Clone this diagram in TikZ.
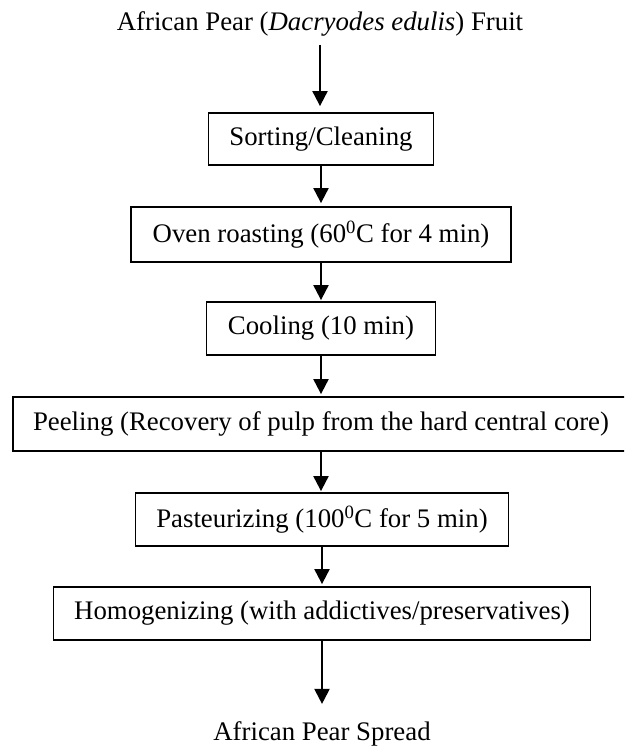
\documentclass[tikz,border=0pt]{standalone}
\usepackage{fontspec}
\setmainfont{Liberation Serif}
\usetikzlibrary{arrows.meta}
\begin{document}
\begin{tikzpicture}[x=1pt,y=-1pt,
  every node/.style={font=\fontsize{26.8pt}{32pt}\selectfont},
  stepbox/.style={draw,line width=1.8pt,inner sep=0pt,minimum height=53pt},
  flow/.style={line width=2pt,-{Triangle[width=15pt,length=15pt]}}]
\useasboundingbox (0,0) rectangle (624,747);
\clip (0,0) rectangle (624,747);
\node[anchor=base,inner sep=0pt] (src) at (320,30) {African Pear (\textit{Dacryodes edulis}) Fruit};
\node[stepbox,minimum width=225pt,minimum height=52pt] (sort) at (321,139) {Sorting/Cleaning};
\node[stepbox,minimum width=380pt,minimum height=55pt] (oven) at (321,234.5) {Oven roasting (60\textsuperscript{0}C for 4 min)};
\node[stepbox,minimum width=229pt] (cool) at (321,328.5) {Cooling (10 min)};
\node[stepbox,minimum width=616pt,minimum height=54pt] (peel) at (321,424) {Peeling (Recovery of pulp from the hard central core)};
\node[stepbox,minimum width=373pt] (past) at (322,519.5) {Pasteurizing (100\textsuperscript{0}C for 5 min)};
\node[stepbox,minimum width=537pt] (homo) at (322,613.5) {Homogenizing (with addictives/preservatives)};
\node[anchor=base,inner sep=0pt] (spread) at (322,740) {African Pear Spread};
\draw[flow,shorten <=9pt,shorten >=6pt] (src.south) -- (src.south |- sort.north);
\draw[flow,shorten >=3pt] (sort.south) -- (sort.south |- oven.north);
\draw[flow,shorten >=1pt] (oven.south) -- (oven.south |- cool.north);
\draw[flow,shorten >=2pt] (cool.south) -- (cool.south |- peel.north);
\draw[flow,shorten >=1pt] (peel.south) -- (peel.south |- past.north);
\draw[flow,shorten >=2pt] (past.south) -- (past.south |- homo.north);
\draw[flow,shorten >=17pt] (homo.south) -- (homo.south |- spread.north);
\end{tikzpicture}
\end{document}
